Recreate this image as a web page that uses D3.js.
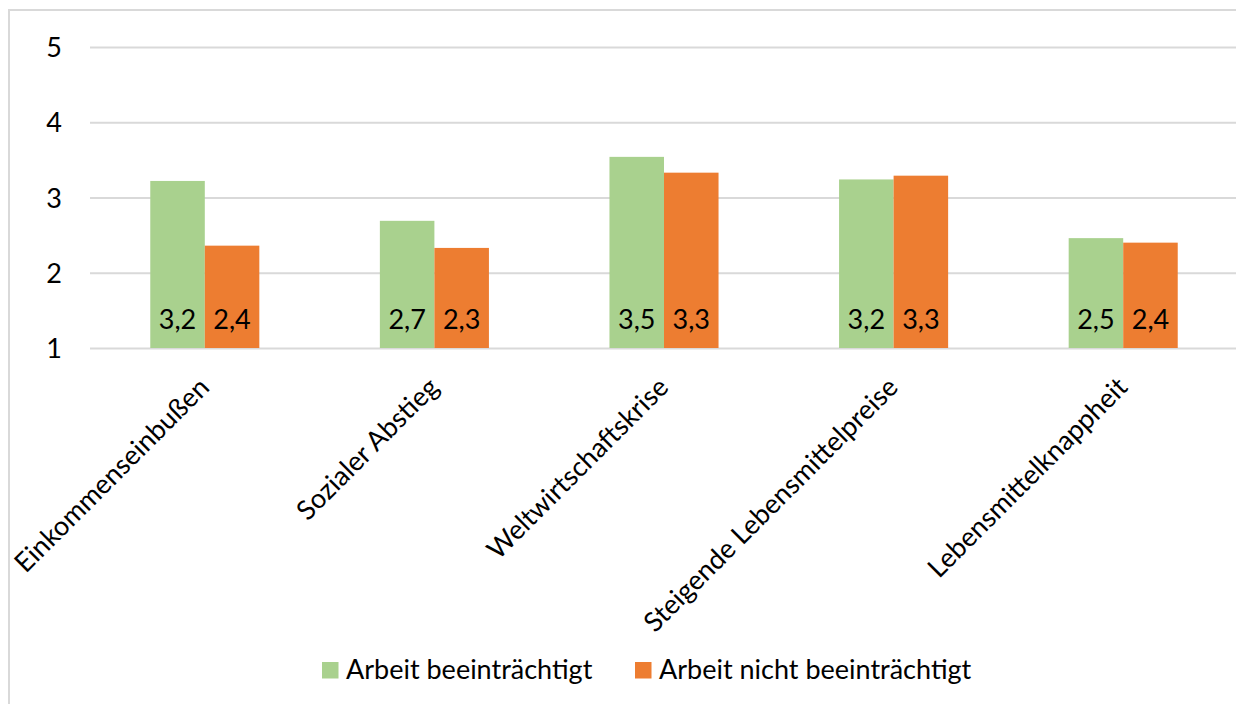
<!DOCTYPE html>
<html>
<head>
<meta charset="utf-8">
<script src="https://cdn.jsdelivr.net/npm/d3@7"></script>
<style>
  html, body { margin: 0; padding: 0; background: #ffffff; }
  svg { display: block; }
  text { font-family: Lato, "Open Sans", sans-serif; fill: #000; }
</style>
</head>
<body>
<svg id="chart" width="1236" height="704"></svg>
<script>
const categories = ["Einkommenseinbußen", "Sozialer Abstieg", "Weltwirtschaftskrise", "Steigende Lebensmittelpreise", "Lebensmittelknappheit"];
const seriesNames = ["Arbeit beeinträchtigt", "Arbeit nicht beeinträchtigt"];
const seriesColors = ["#a9d18e", "#ed7d31"];
const valuesImpaired = [3.22, 2.69, 3.54, 3.24, 2.46];
const valuesNotImpaired = [2.36, 2.33, 3.33, 3.29, 2.40];
const yTicks = [1, 2, 3, 4, 5];

const W = 1236, H = 704;
const plot = { left: 90, right: 1238, top: 47, bottom: 348 };
const fontSize = 27;

const svg = d3.select("#chart");
svg.append("rect").attr("width", W).attr("height", H).attr("fill", "#fff");

// outer chart border
svg.append("rect")
  .attr("x", 9).attr("y", 10)
  .attr("width", W + 20).attr("height", H + 20)
  .attr("fill", "none").attr("stroke", "#d9d9d9").attr("stroke-width", 2);

const y = d3.scaleLinear().domain([1, 5]).range([plot.bottom, plot.top]);
const x = d3.scaleBand().domain(categories).range([plot.left, plot.right])
  .paddingInner(0.525).paddingOuter(0.2625);
const xs = d3.scaleBand().domain(seriesNames).range([0, x.bandwidth()]).padding(0);

// gridlines
const yAxis = d3.axisLeft(y).tickValues(yTicks).tickSize(-(plot.right - plot.left)).tickPadding(28)
  .tickFormat(d3.format("d"));
const gy = svg.append("g").attr("transform", `translate(${plot.left},0)`).call(yAxis);
gy.select(".domain").remove();
gy.selectAll(".tick line").attr("stroke", "#d9d9d9").attr("stroke-width", 2);
gy.selectAll(".tick text").attr("font-size", fontSize).attr("font-family", "Lato").attr("fill", "#000")
  .attr("dy", "0.36em");

const data = categories.map((c, i) => ({ cat: c, vals: [valuesImpaired[i], valuesNotImpaired[i]] }));
const fmt = v => d3.format(".1f")(v).replace(".", ",");

const groups = svg.append("g").selectAll("g").data(data).join("g")
  .attr("transform", d => `translate(${x(d.cat)},0)`);

groups.selectAll("rect").data(d => d.vals.map((v, j) => ({ s: seriesNames[j], v, j })))
  .join("rect")
  .attr("x", d => xs(d.s))
  .attr("width", xs.bandwidth())
  .attr("y", d => y(d.v))
  .attr("height", d => y(1) - y(d.v))
  .attr("fill", d => seriesColors[d.j]);

groups.selectAll("text.lbl").data(d => d.vals.map((v, j) => ({ s: seriesNames[j], v, j })))
  .join("text").attr("class", "lbl")
  .attr("x", d => xs(d.s) + xs.bandwidth() / 2)
  .attr("y", y(1) - 19)
  .attr("text-anchor", "middle")
  .attr("font-size", fontSize)
  .text(d => fmt(d.v));

// category labels rotated
svg.append("g").selectAll("text").data(categories).join("text")
  .attr("transform", d => `translate(${x(d) + x.bandwidth() / 2 + 6},${plot.bottom + 41}) rotate(-45)`)
  .attr("text-anchor", "end")
  .attr("font-size", fontSize)
  .text(d => d);

// legend
const legendY = 670;
const legendItems = [
  { name: seriesNames[0], color: seriesColors[0], x: 322 },
  { name: seriesNames[1], color: seriesColors[1], x: 635 }
];
const lg = svg.append("g").selectAll("g").data(legendItems).join("g")
  .attr("transform", d => `translate(${d.x},${legendY})`);
lg.append("rect").attr("x", 0).attr("y", -8).attr("width", 16.5).attr("height", 16.5).attr("fill", d => d.color);
lg.append("text").attr("x", 24).attr("y", 0).attr("dy", "0.35em")
  .attr("font-size", fontSize).text(d => d.name);
</script>
</body>
</html>
